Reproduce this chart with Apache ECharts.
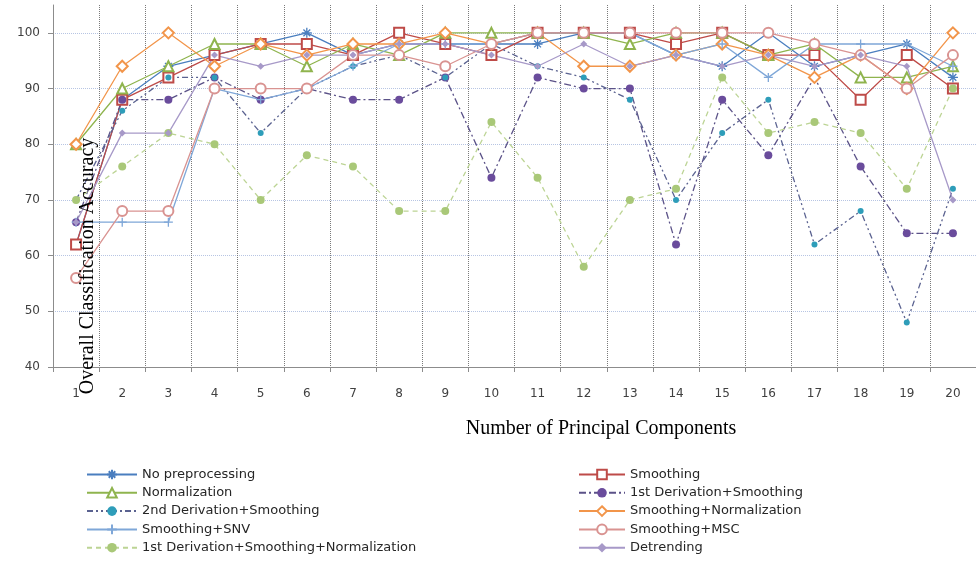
<!DOCTYPE html>
<html>
<head>
<meta charset="utf-8">
<script src="https://cdn.jsdelivr.net/npm/echarts@6/dist/echarts.min.js"></script>
<style>
  html, body { margin: 0; padding: 0; background: #fff; }
  #chart { width: 976px; height: 561px; }
</style>
</head>
<body>
<div id="chart"></div>
<script>
// Number of principal components (x categories)
const components = ['1','2','3','4','5','6','7','8','9','10','11','12','13','14','15','16','17','18','19','20'];
const yTicks = [40, 50, 60, 70, 80, 90, 100];

// Overall classification accuracy (%) per preprocessing method
const noPreprocessing   = [62, 88, 94, 96, 98, 100, 96, 98, 98, 98, 98, 100, 100, 96, 94, 100, 94, 96, 98, 92];
const smoothing         = [62, 88, 92, 96, 98, 98, 96, 100, 98, 96, 100, 100, 100, 98, 100, 96, 96, 88, 96, 90];
const normalization     = [80, 90, 94, 98, 98, 94, 98, 96, 100, 100, 100, 100, 98, 100, 100, 96, 98, 92, 92, 94];
const deriv1Smoothing   = [66, 88, 88, 92, 88, 90, 88, 88, 92, 74, 92, 90, 90, 62, 88, 78, 92, 76, 64, 64];
const deriv2Smoothing   = [70, 86, 92, 92, 82, 90, 94, 96, 92, 98, 94, 92, 88, 70, 82, 88, 62, 68, 48, 72];
const smoothingNorm     = [80, 94, 100, 94, 98, 96, 98, 98, 100, 98, 100, 94, 94, 96, 98, 96, 92, 96, 90, 100];
const smoothingSNV      = [66, 66, 66, 90, 88, 90, 94, 98, 98, 98, 100, 100, 100, 96, 98, 92, 98, 98, 98, 94];
const smoothingMSC      = [56, 68, 68, 90, 90, 90, 96, 96, 94, 98, 100, 100, 100, 100, 100, 100, 98, 96, 90, 96];
const deriv1SmoothNorm  = [70, 76, 82, 80, 70, 78, 76, 68, 68, 84, 74, 58, 70, 72, 92, 82, 84, 82, 72, 90];
const detrending        = [66, 82, 82, 96, 94, 96, 96, 98, 98, 96, 94, 98, 94, 96, 94, 96, 94, 96, 94, 70];

const ASTERISK = 'path://M0,5L10,5M5,0L5,10M1.6,1.6L8.4,8.4M8.4,1.6L1.6,8.4';
const PLUS = 'path://M0,5L10,5M5,0L5,10';

function lineSeries(name, data, opt) {
  return {
    name: name,
    type: 'line',
    data: data,
    symbol: opt.symbol,
    symbolSize: opt.size,
    showAllSymbol: true,
    lineStyle: { color: opt.line || opt.color, width: opt.width || 1.3, type: opt.dash || 'solid' },
    itemStyle: Object.assign({ color: opt.color }, opt.item || {}),
    emphasis: { disabled: true },
    z: opt.z || 2
  };
}

const series = [
  lineSeries('No preprocessing', noPreprocessing, {
    color: '#4A7EBF', symbol: ASTERISK, size: 10,
    item: { borderColor: '#4A7EBF', borderWidth: 1.3 }
  }),
  lineSeries('Smoothing', smoothing, {
    color: '#BE4B48', symbol: 'emptyRect', size: 10,
    item: { borderWidth: 1.5 }
  }),
  lineSeries('Normalization', normalization, {
    color: '#8FB44E', symbol: 'emptyTriangle', size: 10,
    item: { borderWidth: 1.3 }
  }),
  lineSeries('1st Derivation+Smoothing', deriv1Smoothing, {
    color: '#6A4C9C', line: '#5B5288', symbol: 'circle', size: 8,
    dash: [7, 3, 2, 3]
  }),
  lineSeries('2nd Derivation+Smoothing', deriv2Smoothing, {
    color: '#2E9DB9', line: '#5A6290', symbol: 'circle', size: 6,
    dash: [6, 3, 2, 3, 2, 3]
  }),
  lineSeries('Smoothing+Normalization', smoothingNorm, {
    color: '#F2954A', symbol: 'emptyDiamond', size: 11,
    item: { borderWidth: 1.3 }
  }),
  lineSeries('Smoothing+SNV', smoothingSNV, {
    color: '#7FA7D8', symbol: PLUS, size: 9,
    item: { borderColor: '#7FA7D8', borderWidth: 1.3 }
  }),
  lineSeries('Smoothing+MSC', smoothingMSC, {
    color: '#D99391', symbol: 'emptyCircle', size: 10,
    item: { borderWidth: 1.3 }
  }),
  lineSeries('1st Derivation+Smoothing+Normalization', deriv1SmoothNorm, {
    color: '#A9C878', line: '#BCD494', symbol: 'circle', size: 8,
    dash: [5, 4]
  }),
  lineSeries('Detrending', detrending, {
    color: '#A799C8', symbol: 'diamond', size: 7
  })
];

const legendText = { fontFamily: 'DejaVu Sans', fontSize: 13, lineHeight: 15, color: '#262626' };

const option = {
  animation: false,
  backgroundColor: '#ffffff',
  grid: { left: 53, top: 5, right: -13, bottom: 194, containLabel: false },
  xAxis: {
    type: 'category',
    data: components,
    boundaryGap: true,
    axisLine: { lineStyle: { color: '#8C8C8C', width: 1 } },
    axisTick: { show: true, length: 5, lineStyle: { color: '#8C8C8C' } },
    axisLabel: { fontFamily: 'DejaVu Sans', fontSize: 12, color: '#404040', margin: 21 },
    splitLine: { show: true, lineStyle: { color: '#7A7A7A', type: 'dotted', width: 1 } }
  },
  yAxis: {
    type: 'value',
    min: 40,
    max: 105,
    interval: 5,
    axisLine: { show: true, lineStyle: { color: '#8C8C8C', width: 1 } },
    axisTick: { show: true, length: 5, customValues: yTicks, lineStyle: { color: '#8C8C8C' } },
    axisLabel: {
      customValues: yTicks,
      fontFamily: 'DejaVu Sans', fontSize: 12, color: '#404040', margin: 13,
      formatter: function (v) { return v % 10 === 0 && v <= 100 ? String(v) : ''; }
    },
    splitLine: { show: true, lineStyle: { color: '#B7C5E3', type: 'dotted', width: 1 } }
  },
  legend: [
    {
      orient: 'vertical', left: 81, top: 462, height: 98,
      itemWidth: 50, itemHeight: 12, itemGap: 3.3,
      textStyle: legendText,
      data: ['No preprocessing', 'Normalization', '2nd Derivation+Smoothing',
             'Smoothing+SNV', '1st Derivation+Smoothing+Normalization']
    },
    {
      orient: 'vertical', left: 573, top: 462, height: 98,
      itemWidth: 46, itemHeight: 12, itemGap: 3.3,
      textStyle: legendText,
      data: ['Smoothing', '1st Derivation+Smoothing', 'Smoothing+Normalization',
             'Smoothing+MSC', 'Detrending']
    }
  ],
  graphic: [
    {
      type: 'text',
      x: 88, y: 266,
      rotation: Math.PI / 2,
      z: 100,
      style: {
        text: 'Overall Classification Accuracy',
        font: '20px "Liberation Serif", "Times New Roman", serif',
        fill: '#000', align: 'center', verticalAlign: 'middle'
      }
    },
    {
      type: 'text',
      x: 601, y: 429,
      z: 100,
      style: {
        text: 'Number of Principal Components',
        font: '20px "Liberation Serif", "Times New Roman", serif',
        fill: '#000', align: 'center', verticalAlign: 'middle'
      }
    }
  ],
  series: series
};

const chart = echarts.init(document.getElementById('chart'), null, { renderer: 'canvas' });
chart.setOption(option);
</script>
</body>
</html>
